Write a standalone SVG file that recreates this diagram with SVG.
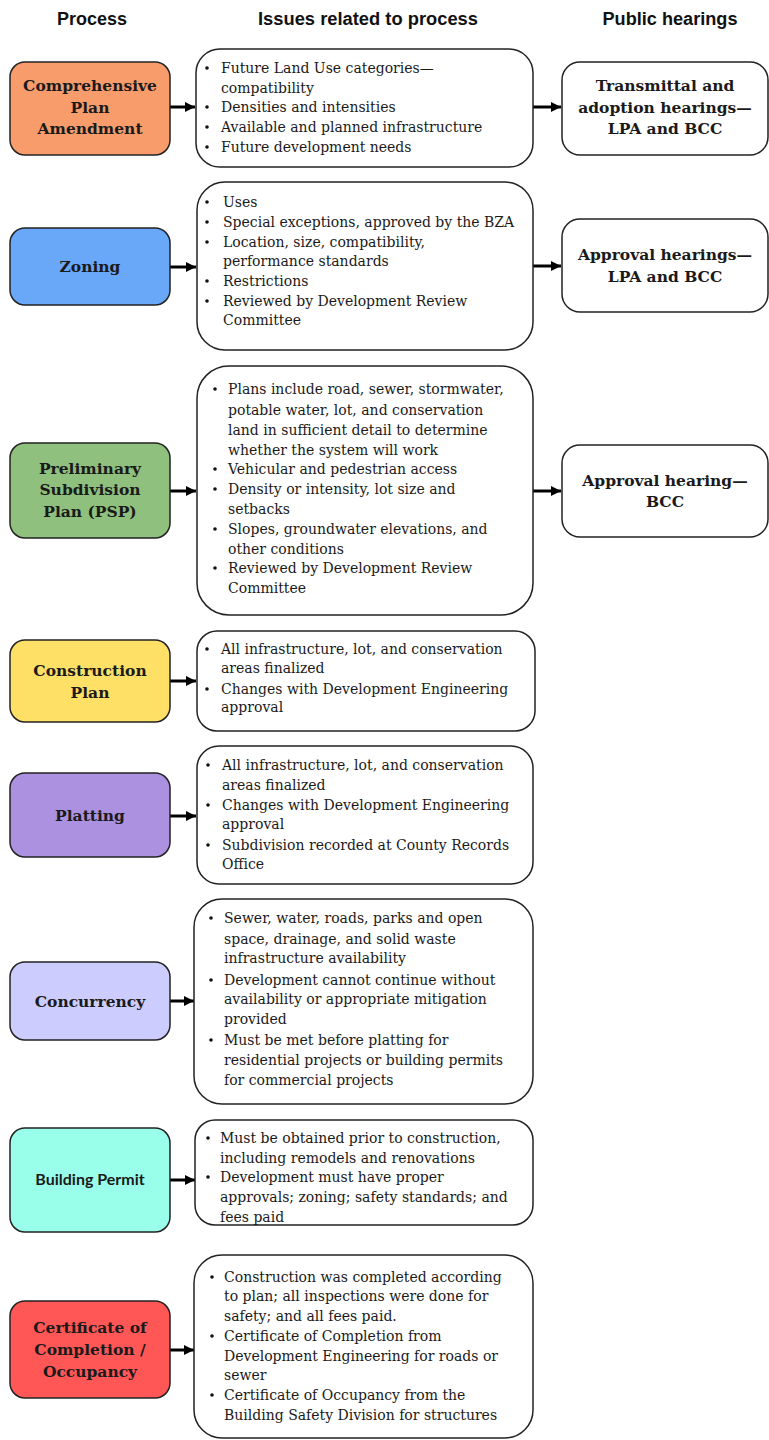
<svg xmlns="http://www.w3.org/2000/svg" width="769" height="1440" viewBox="0 0 769 1440">
<style>
.hdr{font-family:"Liberation Sans Narrow","Liberation Sans",Arial,sans-serif;font-size:18px;font-weight:bold;fill:#111;text-anchor:middle}
.proc{stroke:#222;stroke-width:1.5}
.pt{font-family:"DejaVu Serif","Liberation Serif",serif;font-weight:bold;font-size:15.5px;fill:#1a1a1a;text-anchor:middle}
.ps{font-family:Lato,"Open Sans","Liberation Sans",sans-serif;font-weight:bold;font-size:16px;fill:#1a1a1a;text-anchor:middle}
.box{fill:#fff;stroke:#222;stroke-width:1.5}
.it{font-family:"DejaVu Serif","Liberation Serif",serif;font-size:14px;fill:#1a1a1a}
.bul{fill:#111}
.con{stroke:#000;stroke-width:3;fill:none}
</style>
<defs>
<marker id="ah" markerUnits="userSpaceOnUse" markerWidth="12" markerHeight="12" viewBox="0 0 12 12" refX="11" refY="6" orient="auto">
<path d="M1,1 L11,6 L1,11 Z" fill="#000"/>
</marker>
</defs>
<rect width="769" height="1440" fill="#fff"/>
<g id="headers">
<text class="hdr" x="92" y="25" textLength="70" lengthAdjust="spacingAndGlyphs">Process</text>
<text class="hdr" x="368" y="25" textLength="220" lengthAdjust="spacingAndGlyphs">Issues related to process</text>
<text class="hdr" x="670" y="25" textLength="135" lengthAdjust="spacingAndGlyphs">Public hearings</text>
</g>

<g id="connectors">
<line class="con" x1="170" y1="107" x2="195" y2="107" marker-end="url(#ah)"/>
<line class="con" x1="533" y1="107" x2="561" y2="107" marker-end="url(#ah)"/>
<line class="con" x1="170" y1="267" x2="196" y2="267" marker-end="url(#ah)"/>
<line class="con" x1="533" y1="266" x2="561" y2="266" marker-end="url(#ah)"/>
<line class="con" x1="170" y1="491" x2="196" y2="491" marker-end="url(#ah)"/>
<line class="con" x1="533" y1="491" x2="561" y2="491" marker-end="url(#ah)"/>
<line class="con" x1="170" y1="681" x2="196" y2="681" marker-end="url(#ah)"/>
<line class="con" x1="170" y1="816" x2="196" y2="816" marker-end="url(#ah)"/>
<line class="con" x1="170" y1="1001" x2="194" y2="1001" marker-end="url(#ah)"/>
<line class="con" x1="170" y1="1180" x2="195" y2="1180" marker-end="url(#ah)"/>
<line class="con" x1="170" y1="1350" x2="194" y2="1350" marker-end="url(#ah)"/>
</g>

<g id="p1">
<rect class="proc" x="10" y="62" width="160" height="93" rx="15" fill="#F89C6B"/>
<text class="pt" x="90" y="91">Comprehensive</text>
<text class="pt" x="90" y="113">Plan</text>
<text class="pt" x="90" y="134">Amendment</text>
</g>
<g id="p2">
<rect class="proc" x="10" y="228" width="160" height="77" rx="15" fill="#69A7F8"/>
<text class="pt" x="90" y="272">Zoning</text>
</g>
<g id="p3">
<rect class="proc" x="10" y="443" width="160" height="95" rx="15" fill="#8FC07E"/>
<text class="pt" x="90" y="474">Preliminary</text>
<text class="pt" x="90" y="495">Subdivision</text>
<text class="pt" x="90" y="517">Plan (PSP)</text>
</g>
<g id="p4">
<rect class="proc" x="10" y="640" width="160" height="82" rx="15" fill="#FFE066"/>
<text class="pt" x="90" y="676">Construction</text>
<text class="pt" x="90" y="698">Plan</text>
</g>
<g id="p5">
<rect class="proc" x="10" y="773" width="160" height="84" rx="15" fill="#AC91E1"/>
<text class="pt" x="90" y="821">Platting</text>
</g>
<g id="p6">
<rect class="proc" x="10" y="962" width="160" height="78" rx="15" fill="#CCCCFF"/>
<text class="pt" x="90" y="1007">Concurrency</text>
</g>
<g id="p7">
<rect class="proc" x="10" y="1128" width="160" height="104" rx="15" fill="#99FFEB"/>
<text class="ps" x="90" y="1185">Building Permit</text>
</g>
<g id="p8">
<rect class="proc" x="10" y="1301" width="160" height="97" rx="15" fill="#FF5656"/>
<text class="pt" x="90" y="1333">Certificate of</text>
<text class="pt" x="90" y="1355">Completion /</text>
<text class="pt" x="90" y="1377">Occupancy</text>
</g>

<g id="i1">
<rect class="box" x="196" y="49" width="337" height="118" rx="24"/>
<g class="bul"><circle cx="207" cy="68" r="1.8"/><circle cx="207" cy="107" r="1.8"/><circle cx="207" cy="127" r="1.8"/><circle cx="207" cy="147" r="1.8"/></g>
<text class="it" x="221" y="73">Future Land Use categories—</text>
<text class="it" x="221" y="93">compatibility</text>
<text class="it" x="221" y="112">Densities and intensities</text>
<text class="it" x="221" y="132">Available and planned infrastructure</text>
<text class="it" x="221" y="152">Future development needs</text>
</g>
<g id="i2">
<rect class="box" x="197" y="182" width="336" height="168" rx="28"/>
<g class="bul"><circle cx="207" cy="202" r="1.8"/><circle cx="207" cy="222" r="1.8"/><circle cx="207" cy="242" r="1.8"/><circle cx="207" cy="281" r="1.8"/><circle cx="207" cy="301" r="1.8"/></g>
<text class="it" x="223" y="207">Uses</text>
<text class="it" x="223" y="227">Special exceptions, approved by the BZA</text>
<text class="it" x="223" y="247">Location, size, compatibility,</text>
<text class="it" x="223" y="266">performance standards</text>
<text class="it" x="223" y="286">Restrictions</text>
<text class="it" x="223" y="306">Reviewed by Development Review</text>
<text class="it" x="223" y="325">Committee</text>
</g>
<g id="i3">
<rect class="box" x="197" y="366" width="336" height="249" rx="32"/>
<g class="bul"><circle cx="215" cy="389" r="1.8"/><circle cx="215" cy="469" r="1.8"/><circle cx="215" cy="489" r="1.8"/><circle cx="215" cy="529" r="1.8"/><circle cx="215" cy="568" r="1.8"/></g>
<text class="it" x="228" y="394">Plans include road, sewer, stormwater,</text>
<text class="it" x="228" y="415">potable water, lot, and conservation</text>
<text class="it" x="228" y="435">land in sufficient detail to determine</text>
<text class="it" x="228" y="455">whether the system will work</text>
<text class="it" x="228" y="474">Vehicular and pedestrian access</text>
<text class="it" x="228" y="494">Density or intensity, lot size and</text>
<text class="it" x="228" y="514">setbacks</text>
<text class="it" x="228" y="534">Slopes, groundwater elevations, and</text>
<text class="it" x="228" y="554">other conditions</text>
<text class="it" x="228" y="573">Reviewed by Development Review</text>
<text class="it" x="228" y="593">Committee</text>
</g>
<g id="i4">
<rect class="box" x="197" y="631" width="338" height="100" rx="20"/>
<g class="bul"><circle cx="207" cy="649" r="1.8"/><circle cx="207" cy="689" r="1.8"/></g>
<text class="it" x="221" y="654">All infrastructure, lot, and conservation</text>
<text class="it" x="221" y="673">areas finalized</text>
<text class="it" x="221" y="694">Changes with Development Engineering</text>
<text class="it" x="221" y="712">approval</text>
</g>
<g id="i5">
<rect class="box" x="197" y="746" width="336" height="138" rx="22"/>
<g class="bul"><circle cx="208" cy="765" r="1.8"/><circle cx="208" cy="805" r="1.8"/><circle cx="208" cy="845" r="1.8"/></g>
<text class="it" x="222" y="770">All infrastructure, lot, and conservation</text>
<text class="it" x="222" y="790">areas finalized</text>
<text class="it" x="222" y="810">Changes with Development Engineering</text>
<text class="it" x="222" y="829">approval</text>
<text class="it" x="222" y="850">Subdivision recorded at County Records</text>
<text class="it" x="222" y="869">Office</text>
</g>
<g id="i6">
<rect class="box" x="194" y="899" width="339" height="205" rx="28"/>
<g class="bul"><circle cx="211" cy="918" r="1.8"/><circle cx="211" cy="980" r="1.8"/><circle cx="211" cy="1040" r="1.8"/></g>
<text class="it" x="224" y="923">Sewer, water, roads, parks and open</text>
<text class="it" x="224" y="944">space, drainage, and solid waste</text>
<text class="it" x="224" y="963">infrastructure availability</text>
<text class="it" x="224" y="985">Development cannot continue without</text>
<text class="it" x="224" y="1004">availability or appropriate mitigation</text>
<text class="it" x="224" y="1024">provided</text>
<text class="it" x="224" y="1045">Must be met before platting for</text>
<text class="it" x="224" y="1065">residential projects or building permits</text>
<text class="it" x="224" y="1085">for commercial projects</text>
</g>
<g id="i7">
<rect class="box" x="195" y="1120" width="338" height="105" rx="20"/>
<g class="bul"><circle cx="208" cy="1138" r="1.8"/><circle cx="208" cy="1177" r="1.8"/></g>
<text class="it" x="220" y="1143">Must be obtained prior to construction,</text>
<text class="it" x="220" y="1163">including remodels and renovations</text>
<text class="it" x="220" y="1182">Development must have proper</text>
<text class="it" x="220" y="1202">approvals; zoning; safety standards; and</text>
<text class="it" x="220" y="1222">fees paid</text>
</g>
<g id="i8">
<rect class="box" x="194" y="1255" width="339" height="183" rx="28"/>
<g class="bul"><circle cx="212" cy="1277" r="1.8"/><circle cx="212" cy="1336" r="1.8"/><circle cx="212" cy="1395" r="1.8"/></g>
<text class="it" x="224" y="1282">Construction was completed according</text>
<text class="it" x="224" y="1301">to plan; all inspections were done for</text>
<text class="it" x="224" y="1321">safety; and all fees paid.</text>
<text class="it" x="224" y="1341">Certificate of Completion from</text>
<text class="it" x="224" y="1361">Development Engineering for roads or</text>
<text class="it" x="224" y="1380">sewer</text>
<text class="it" x="224" y="1400">Certificate of Occupancy from the</text>
<text class="it" x="224" y="1420">Building Safety Division for structures</text>
</g>

<g id="h1">
<rect class="box" x="562" y="62" width="206" height="93" rx="18"/>
<text class="pt" x="665" y="91">Transmittal and</text>
<text class="pt" x="665" y="113">adoption hearings—</text>
<text class="pt" x="665" y="134">LPA and BCC</text>
</g>
<g id="h2">
<rect class="box" x="562" y="219" width="206" height="93" rx="18"/>
<text class="pt" x="665" y="260">Approval hearings—</text>
<text class="pt" x="665" y="282">LPA and BCC</text>
</g>
<g id="h3">
<rect class="box" x="562" y="445" width="206" height="92" rx="18"/>
<text class="pt" x="665" y="486">Approval hearing—</text>
<text class="pt" x="665" y="507">BCC</text>
</g>
</svg>
